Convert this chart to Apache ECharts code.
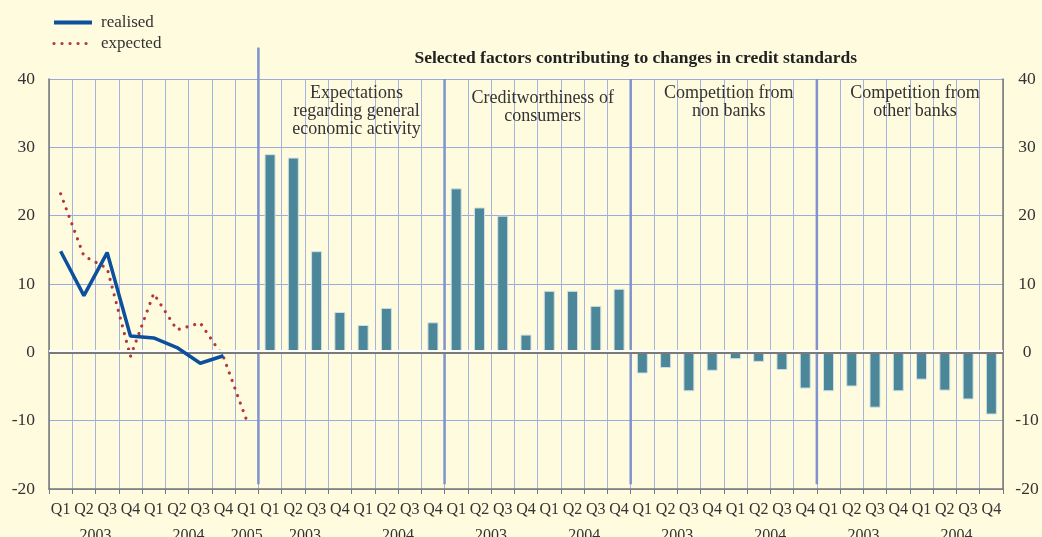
<!DOCTYPE html>
<html>
<head>
<meta charset="utf-8">
<script src="https://cdn.jsdelivr.net/npm/echarts@6/dist/echarts.min.js"></script>
<style>
  html, body { margin: 0; padding: 0; background: #fffbdf; }
  #main { width: 1042px; height: 537px; }
</style>
</head>
<body>
<div id="main"></div>
<script>
// left panel: survey results, Q1 2003 .. Q1 2005
var leftQuarters = ['Q1','Q2','Q3','Q4','Q1','Q2','Q3','Q4','Q1'];
var leftYears = [['2003', 4], ['2004', 4], ['2005', 1]];
var realised = [14.8, 8.3, 14.6, 2.4, 2.1, 0.7, -1.6, -0.5];
var expected = [23.2, 14.1, 12.3, -0.6, 8.6, 3.3, 4.3, -0.7, -10.0];

// right panels: factors, Q1 2003 .. Q4 2004
var factorQuarters = ['Q1','Q2','Q3','Q4','Q1','Q2','Q3','Q4'];
var factorYears = [['2003', 4], ['2004', 4]];
var panelTitles = [
  'Expectations\nregarding general\neconomic activity',
  'Creditworthiness of\nconsumers',
  'Competition from\nnon banks',
  'Competition from\nother banks'
];
var expectationsVals = [29.0, 28.5, 14.8, 5.9, 4.0, 6.5, -0.2, 4.4];
var creditworthVals = [24.0, 21.2, 20.0, 2.6, 9.0, 9.0, 6.8, 9.3];
var nonBanksVals = [-3.1, -2.3, -5.7, -2.7, -1.0, -1.4, -2.6, -5.3];
var otherBanksVals = [-5.7, -5.0, -8.1, -5.7, -4.0, -5.6, -6.9, -9.1];
var yTicks = [-20, -10, 0, 10, 20, 30, 40];

var factorPanels = [expectationsVals, creditworthVals, nonBanksVals, otherBanksVals];

// build categories and series
var cats = leftQuarters.slice();
var yearLabels = {};
var pos = 0;
leftYears.forEach(function (y) { yearLabels[pos + y[1] / 2] = y[0]; pos += y[1]; });
var dividers = [];
factorPanels.forEach(function () {
  dividers.push(cats.length);
  var start = cats.length;
  cats = cats.concat(factorQuarters);
  var p = start;
  factorYears.forEach(function (y) { yearLabels[p + y[1] / 2] = y[0]; p += y[1]; });
});
var n = cats.length;

var barData = [];
for (var i = 0; i < leftQuarters.length; i++) barData.push('-');
factorPanels.forEach(function (vals) { barData = barData.concat(vals); });

var grid = { left: 49, right: 39, top: 79, bottom: 48, outerBoundsMode: 'none', containLabel: false };
var serif = '"Liberation Serif", "DejaVu Serif", serif';
var blue = '#0b4f9e', red = '#b3383b';

var series = [
  {
    name: 'bars', type: 'bar', barWidth: 11, data: barData,
    itemStyle: { color: '#4b8799', borderColor: '#cfe0e6', borderWidth: 1 },
    markLine: {
      silent: true, symbol: 'none', label: { show: false },
      lineStyle: { color: '#7a7a7a', width: 2, type: 'solid',
        shadowColor: '#ffffff', shadowOffsetY: -2, shadowBlur: 0 },
      data: [{ yAxis: 0 }]
    },
    z: 3
  },
  {
    name: 'realised', type: 'line', data: realised, symbol: 'none',
    lineStyle: { color: blue, width: 3.5 }, itemStyle: { color: blue }, z: 5
  },
  {
    name: 'expected', type: 'line', data: expected, symbol: 'none',
    lineStyle: { color: red, width: 3.2, type: [0.01, 8], cap: 'round' },
    itemStyle: { color: red }, z: 4
  }
];

// panel dividers on the value x axis
dividers.forEach(function (d, k) {
  series.push({
    type: 'line', xAxisIndex: 1, symbol: 'none', silent: true, clip: false,
    data: [[d, -19.3], [d, k === 0 ? 44.6 : 40]],
    lineStyle: { color: '#7f93cf', width: 2.5 }, z: 2
  });
});

var titles = [{
  text: 'Selected factors contributing to changes in credit standards',
  left: (grid.left + (1042 - grid.right - grid.left) * dividers[0] / n + 1042 - grid.right) / 2,
  top: 44, textAlign: 'center',
  textStyle: { fontFamily: serif, fontSize: 17.5, fontWeight: 'bold', color: '#222' }
}];
var plotW = 1042 - grid.left - grid.right;
panelTitles.forEach(function (t, k) {
  var a = dividers[k], b = (k + 1 < dividers.length) ? dividers[k + 1] : n;
  titles.push({
    text: t, left: grid.left + plotW * (a + b) / 2 / n, top: k === 1 ? 84 : 79,
    textAlign: 'center',
    textStyle: { fontFamily: serif, fontSize: 18, fontWeight: 'normal', color: '#333', lineHeight: 18 }
  });
});

var chart = echarts.init(document.getElementById('main'));
chart.setOption({
  backgroundColor: '#fffbdf',
  animation: false,
  title: titles,
  legend: {
    orient: 'vertical', left: 47, top: 9, itemWidth: 38, itemHeight: 12, itemGap: 4,
    data: [
      { name: 'realised', lineStyle: { color: blue, width: 4 } },
      { name: 'expected', lineStyle: { color: red, width: 3.2, type: [0.01, 8], cap: 'round' } }
    ],
    itemStyle: { opacity: 0 },
    textStyle: { fontFamily: serif, fontSize: 17, color: '#333', padding: [0, 0, 0, 4] }
  },
  grid: grid,
  xAxis: [
    {
      type: 'category', data: cats, boundaryGap: true, position: 'bottom',
      axisLine: { onZero: false, lineStyle: { color: '#777', width: 1.5 } },
      axisTick: { show: true, length: 5, lineStyle: { color: '#777' } },
      axisLabel: { interval: 0, fontFamily: serif, fontSize: 16, color: '#333', margin: 13 },
      splitLine: { show: true, lineStyle: { color: '#a4b3e0', width: 1 } }
    },
    {
      type: 'value', min: 0, max: n, interval: 0.5, position: 'bottom',
      axisLine: { show: false }, axisTick: { show: false }, splitLine: { show: false },
      axisLabel: {
        fontFamily: serif, fontSize: 16, color: '#333', margin: 39, showMinLabel: true, showMaxLabel: true,
        formatter: function (v) { return yearLabels[v] || ''; }
      }
    }
  ],
  yAxis: [
    {
      type: 'value', min: yTicks[0], max: yTicks[yTicks.length - 1], interval: 10,
      axisLine: { show: true, lineStyle: { color: '#777', width: 1.5 } },
      axisTick: { show: false },
      axisLabel: { fontFamily: serif, fontSize: 17.5, color: '#333', margin: 14 },
      splitLine: { show: true, lineStyle: { color: '#9aabe0', width: 1 } }
    },
    {
      type: 'value', min: yTicks[0], max: yTicks[yTicks.length - 1], interval: 10, position: 'right',
      axisLine: { show: true, lineStyle: { color: '#777', width: 1.5 } },
      axisTick: { show: false },
      axisLabel: { fontFamily: serif, fontSize: 17.5, color: '#333', margin: 24, align: 'center' },
      splitLine: { show: false }
    }
  ],
  series: series
});
</script>
</body>
</html>
